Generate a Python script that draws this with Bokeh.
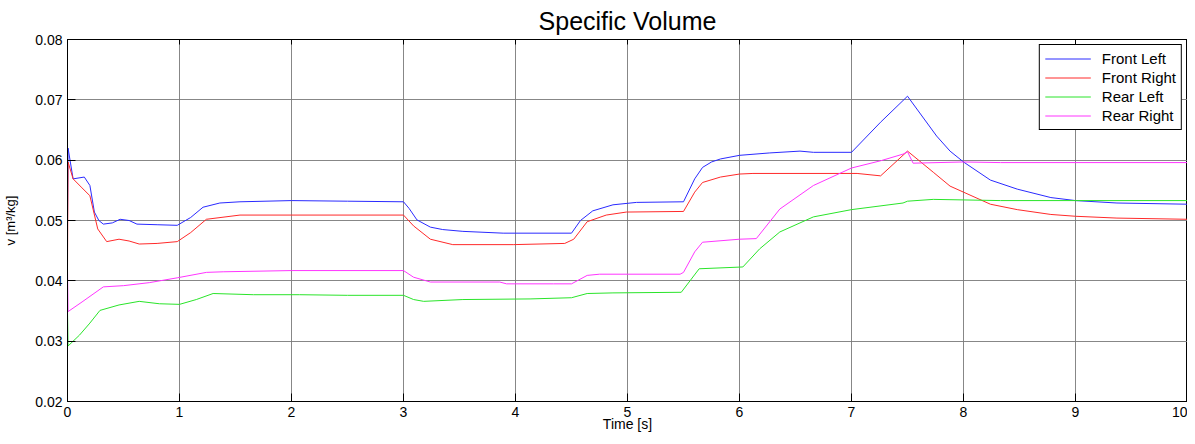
from bokeh.plotting import figure
from bokeh.models import Range1d, FixedTicker, LinearAxis, Legend, LegendItem, CustomJSTickFormatter
from bokeh.embed import file_html
from bokeh.resources import INLINE

# ---- data ----
t_fl = [0, 0.005, 0.05, 0.15, 0.2, 0.24, 0.28, 0.32, 0.4, 0.47, 0.55, 0.62, 0.8, 0.98, 1.1, 1.21,
        1.36, 1.54, 2.0, 2.5, 3.0, 3.05, 3.12, 3.24, 3.35, 3.53, 3.89, 4.5, 4.58, 4.69, 4.87, 5.08,
        5.5, 5.6, 5.67, 5.75, 5.83, 6.0, 6.27, 6.54, 6.66, 7.0, 7.26, 7.5, 7.76, 7.88, 8.0, 8.24,
        8.48, 8.78, 9.0, 9.37, 10.0]
v_fl = [0.050, 0.062, 0.0569, 0.0572, 0.0558, 0.0514, 0.0500, 0.0494, 0.0496, 0.0502, 0.0500, 0.0494,
        0.0493, 0.0492, 0.0505, 0.0522, 0.0529, 0.0531, 0.0533, 0.0532, 0.0531, 0.0520, 0.0501, 0.0489,
        0.0485, 0.0482, 0.0479, 0.0479, 0.0500, 0.0516, 0.0526, 0.0530, 0.0531, 0.0569, 0.0588, 0.0597,
        0.0602, 0.0608, 0.0612, 0.0615, 0.0613, 0.0613, 0.0663, 0.0706, 0.0640, 0.0615, 0.0597, 0.0567,
        0.0552, 0.0538, 0.0533, 0.0529, 0.0527]

t_fr = [0, 0.005, 0.05, 0.13, 0.2, 0.27, 0.35, 0.46, 0.55, 0.64, 0.8, 0.98, 1.1, 1.24, 1.54, 2.0,
        3.0, 3.09, 3.24, 3.44, 3.98, 4.44, 4.52, 4.64, 4.81, 4.99, 5.5, 5.6, 5.67, 5.83, 6.0, 6.12,
        7.05, 7.26, 7.5, 7.73, 7.88, 8.0, 8.24, 8.48, 8.78, 9.0, 9.37, 10.0]
v_fr = [0.042, 0.0597, 0.0569, 0.0554, 0.0541, 0.0486, 0.0465, 0.0469, 0.0466, 0.0461, 0.0462, 0.0465,
        0.0480, 0.0502, 0.0509, 0.0509, 0.0509, 0.0491, 0.0469, 0.0460, 0.0460, 0.0462, 0.0469, 0.0498,
        0.0509, 0.0514, 0.0515, 0.0547, 0.0563, 0.0572, 0.0577, 0.0578, 0.0578, 0.0574, 0.0615, 0.0580,
        0.0557, 0.0547, 0.0527, 0.0518, 0.0510, 0.0507, 0.0504, 0.0502]

t_rl = [0, 0.005, 0.107, 0.2, 0.29, 0.46, 0.64, 0.82, 1.0, 1.15, 1.3, 1.66, 2.07, 2.5, 3.0, 3.09,
        3.18, 3.53, 4.13, 4.5, 4.64, 4.87, 5.48, 5.64, 6.03, 6.18, 6.36, 6.66, 7.0, 7.46, 7.5, 7.73,
        8.33, 10.0]
v_rl = [0.035, 0.0292, 0.0310, 0.0330, 0.0351, 0.0360, 0.0366, 0.0362, 0.0361, 0.0369, 0.0379, 0.0377,
        0.0377, 0.0376, 0.0376, 0.0369, 0.0366, 0.0369, 0.0370, 0.0372, 0.0379, 0.0380, 0.0381, 0.0420,
        0.0423, 0.0453, 0.0481, 0.0506, 0.0518, 0.0529, 0.0532, 0.0535, 0.0533, 0.0533]

t_rr = [0, 0.005, 0.13, 0.32, 0.5, 0.73, 0.98, 1.24, 1.39, 2.0, 3.0, 3.09, 3.24, 3.86, 3.92, 4.34,
        4.5, 4.64, 4.75, 5.47, 5.5, 5.6, 5.67, 6.0, 6.15, 6.36, 6.66, 7.0, 7.26, 7.46, 7.5, 7.55,
        8.0, 8.33, 10.0]
v_rr = [0.042, 0.0349, 0.0365, 0.0390, 0.0392, 0.0397, 0.0405, 0.0414, 0.0415, 0.0417, 0.0417, 0.0406,
        0.0398, 0.0398, 0.0395, 0.0395, 0.0395, 0.0409, 0.0411, 0.0411, 0.0414, 0.0448, 0.0464, 0.0469,
        0.0470, 0.0519, 0.0558, 0.0587, 0.0599, 0.0610, 0.0614, 0.0595, 0.0597, 0.0596, 0.0596]

series_names = ["Front Left", "Front Right", "Rear Left", "Rear Right"]
series_colors = ["#2a2aff", "#ff2a2a", "#2ae42a", "#ff35ff"]
x_ticks = [0, 1, 2, 3, 4, 5, 6, 7, 8, 9, 10]
y_ticks = [0.02, 0.03, 0.04, 0.05, 0.06, 0.07, 0.08]
title_text = "Specific Volume"
x_label = "Time [s]"
y_label = "v [m³/kg]"

FONT = "Liberation Sans"

p = figure(width=1187, height=434, output_backend="svg", toolbar_location=None,
           x_range=Range1d(x_ticks[0], x_ticks[-1]), y_range=Range1d(y_ticks[0], y_ticks[-1]),
           title=title_text, x_axis_label=x_label, y_axis_label=y_label,
           min_border_left=0, min_border_right=0, min_border_top=0, min_border_bottom=0)

p.title.align = "center"
p.title.text_font = FONT
p.title.text_font_size = "25px"
p.title.text_font_style = "normal"
p.title.text_color = "black"
p.title.standoff = 9

p.outline_line_color = "black"
p.outline_line_width = 1
p.outline_line_alpha = 1

for ax in (p.xaxis[0], p.yaxis[0]):
    ax.major_label_text_font = FONT
    ax.major_label_text_font_size = "14px"
    ax.major_label_text_color = "black"
    ax.axis_label_text_font = FONT
    ax.axis_label_text_font_size = "14px"
    ax.axis_label_text_font_style = "normal"
    ax.axis_label_text_color = "black"
    ax.major_tick_in = 8
    ax.major_tick_out = 0
    ax.minor_tick_line_color = None
    ax.axis_line_color = "black"
    ax.major_tick_line_color = "black"

p.xaxis[0].ticker = FixedTicker(ticks=x_ticks)
p.yaxis[0].ticker = FixedTicker(ticks=y_ticks)
p.xaxis[0].major_label_standoff = 5
p.xaxis[0].axis_label_standoff = -4
p.yaxis[0].major_label_standoff = 5
p.yaxis[0].axis_label_standoff = 14
p.yaxis[0].axis_label_text_font_size = "13px"

blank = CustomJSTickFormatter(code="return '';")
top_ax = LinearAxis(ticker=FixedTicker(ticks=x_ticks), formatter=blank,
                    major_tick_in=5, major_tick_out=0, minor_tick_line_color=None,
                    major_label_standoff=0)
p.add_layout(top_ax, "above")

p.xgrid.ticker = FixedTicker(ticks=x_ticks)
p.ygrid.ticker = FixedTicker(ticks=y_ticks)
for g in (p.xgrid[0], p.ygrid[0]):
    g.grid_line_color = "#7a7a7a"
    g.grid_line_alpha = 0.9
    g.grid_line_width = 1

data = [(t_fl, v_fl), (t_fr, v_fr), (t_rl, v_rl), (t_rr, v_rr)]
items = []
for (tt, vv), name, col in zip(data, series_names, series_colors):
    r = p.line(tt, vv, line_color=col, line_width=1)
    items.append(LegendItem(label=name, renderers=[r]))

legend = Legend(items=items, location="top_right")
legend.label_text_font = FONT
legend.label_text_font_size = "15px"
legend.label_text_color = "black"
legend.glyph_width = 46
legend.glyph_height = 17
legend.label_height = 17
legend.spacing = 2
legend.padding = 5
legend.margin = 5
legend.label_standoff = 11
legend.border_line_color = "black"
legend.border_line_width = 1
legend.border_line_alpha = 1
legend.background_fill_color = "white"
legend.background_fill_alpha = 1
p.add_layout(legend, "center")

open("out.html", "w").write(file_html(p, INLINE))
